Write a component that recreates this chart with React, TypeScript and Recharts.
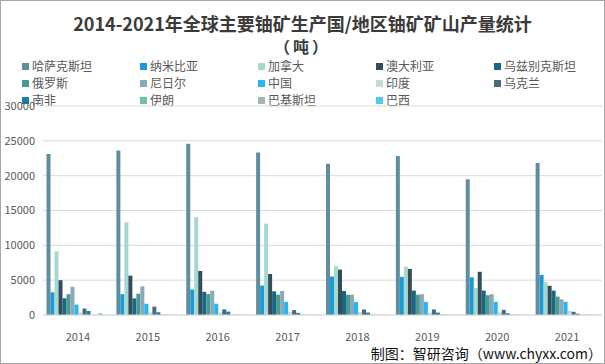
import React from "react";
import { BarChart, Bar, XAxis, YAxis, CartesianGrid } from "recharts";

const years = ["2014", "2015", "2016", "2017", "2018", "2019", "2020", "2021"];

const countries = [
  "哈萨克斯坦", "纳米比亚", "加拿大", "澳大利亚", "乌兹别克斯坦",
  "俄罗斯", "尼日尔", "中国", "印度", "乌克兰",
  "南非", "伊朗", "巴基斯坦", "巴西",
];

const colors = [
  "#608e9e", "#1a9ad6", "#a6d8d2", "#344d59", "#1b6680",
  "#489a92", "#8aa9bb", "#27b6ef", "#bfdfd6", "#4a6a7a",
  "#1a7fa6", "#6fc0b2", "#a2b8b2", "#55c6ef",
];

// tonnes of uranium, one array per country, 2014..2021
const kazakhstan = [23127, 23607, 24586, 23321, 21705, 22808, 19477, 21819];
const namibia = [3255, 2993, 3654, 4224, 5525, 5476, 5413, 5753];
const canada = [9134, 13325, 14039, 13116, 7001, 6938, 3885, 4693];
const australia = [5001, 5654, 6315, 5882, 6517, 6613, 6203, 4192];
const uzbekistan = [2400, 2385, 3325, 3400, 3450, 3500, 3500, 3500];
const russia = [2990, 3055, 3004, 2917, 2904, 2911, 2846, 2635];
const niger = [4057, 4116, 3479, 3449, 2911, 2983, 2991, 2248];
const china = [1500, 1616, 1616, 1885, 1885, 1885, 1885, 1885];
const india = [385, 385, 385, 421, 423, 308, 400, 615];
const ukraine = [926, 1200, 808, 707, 790, 801, 744, 455];
const southAfrica = [573, 393, 490, 308, 346, 346, 250, 192];
const iran = [0, 38, 0, 40, 71, 71, 71, 21];
const pakistan = [45, 45, 45, 45, 45, 45, 45, 45];
const brazil = [231, 40, 44, 0, 0, 0, 15, 29];

const seriesValues = [
  kazakhstan, namibia, canada, australia, uzbekistan,
  russia, niger, china, india, ukraine,
  southAfrica, iran, pakistan, brazil,
];

const yTicks = [0, 5000, 10000, 15000, 20000, 25000, 30000];

const data = years.map((year, i) => {
  const row: any = { year };
  countries.forEach((c, k) => {
    row[c] = seriesValues[k][i];
  });
  return row;
});

const font = '"Noto Sans CJK SC", "Microsoft YaHei", sans-serif';

const titleStyle: React.CSSProperties = {
  position: "absolute",
  left: 0,
  width: 603,
  textAlign: "center",
  fontWeight: 700,
  color: "#3a3a3a",
};

export default function App() {
  return (
    <div
      style={{
        position: "absolute",
        left: 0,
        top: 0,
        width: 605,
        height: 364,
        background: "#fff",
        fontFamily: font,
        boxSizing: "border-box",
        border: "1px solid #a6a6a6",
        overflow: "hidden",
      }}
    >
      <div style={{ ...titleStyle, top: 11, fontSize: 18, lineHeight: "22px" }}>
        2014-2021年全球主要铀矿生产国/地区铀矿矿山产量统计
      </div>
      <div style={{ ...titleStyle, top: 36, fontSize: 16, lineHeight: "18px", letterSpacing: 3 }}>
        （吨）
      </div>

      {countries.map((c, k) => (
        <div
          key={c}
          style={{
            position: "absolute",
            left: 21 + (k % 5) * 118,
            top: 58 + Math.floor(k / 5) * 17,
            fontSize: 12,
            color: "#595959",
            display: "flex",
            alignItems: "center",
            lineHeight: "14px",
          }}
        >
          <span
            style={{
              display: "inline-block",
              width: 7,
              height: 7,
              background: colors[k],
              marginRight: 3,
            }}
          />
          {c}
        </div>
      ))}

      <BarChart
        width={603}
        height={362}
        data={data}
        margin={{ top: 105, right: 2, bottom: 18, left: 0 }}
        barCategoryGap="5%"
        barGap={0}
        style={{ position: "absolute", left: 0, top: 0 }}
      >
        <CartesianGrid vertical={false} stroke="#d9d9d9" />
        <XAxis
          dataKey="year"
          tickLine={false}
          axisLine={{ stroke: "#d9d9d9" }}
          tick={{ fontSize: 11, fill: "#595959", fontFamily: font }}
          tickMargin={12}
          height={30}
        />
        <YAxis
          ticks={yTicks}
          domain={[0, 30000]}
          tickLine={false}
          axisLine={false}
          tickSize={0}
          tickMargin={8}
          width={42}
          interval={0}
          tick={{ fontSize: 11, fill: "#595959", fontFamily: font }}
        />
        {countries.map((c, k) => (
          <Bar key={c} dataKey={c} fill={colors[k]} isAnimationActive={false} />
        ))}
      </BarChart>

      <div
        style={{
          position: "absolute",
          right: 2,
          top: 345,
          fontSize: 14,
          color: "#111",
          lineHeight: "15px",
        }}
      >
        制图：智研咨询（www.chyxx.com）
      </div>
    </div>
  );
}
